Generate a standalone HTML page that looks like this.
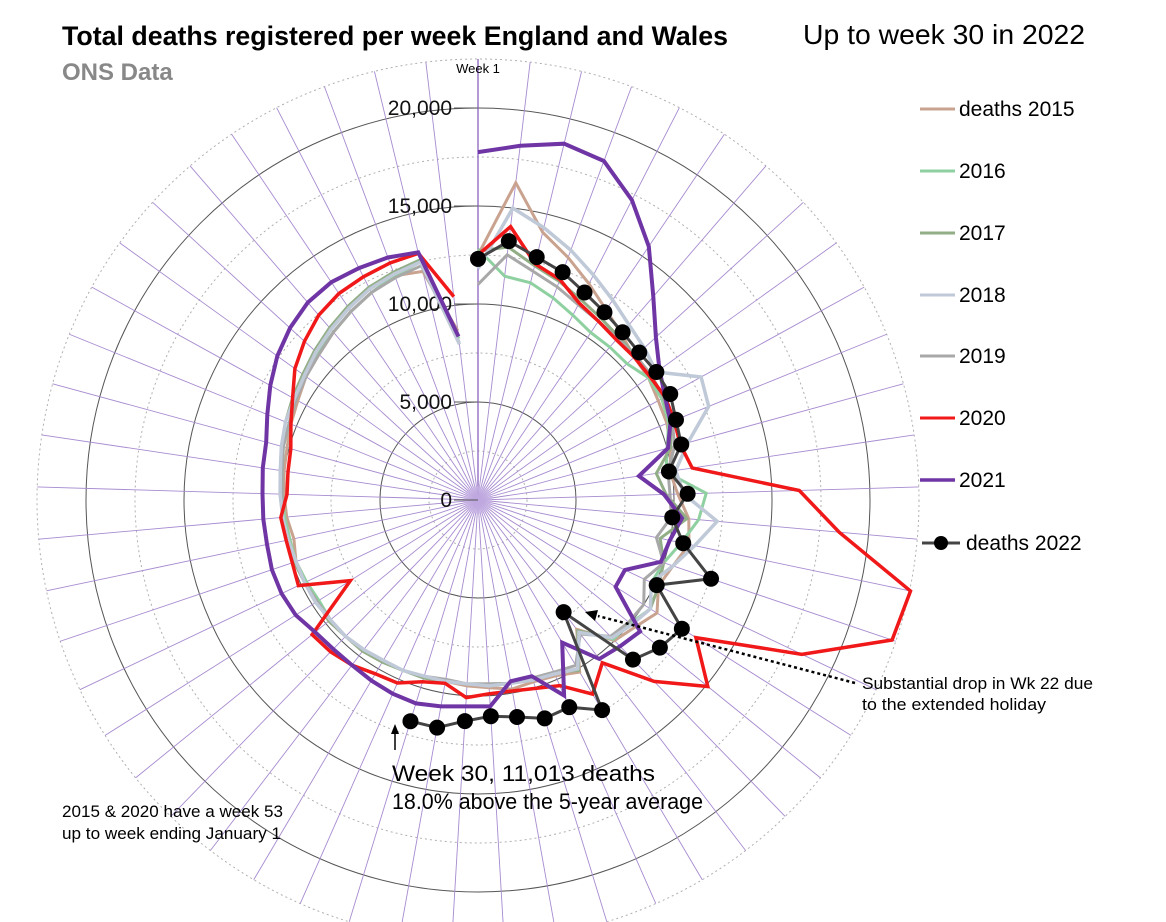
<!DOCTYPE html>
<html><head><meta charset="utf-8"><style>
html,body{margin:0;padding:0;background:#fff;}
body{width:1166px;height:922px;overflow:hidden;position:relative;font-family:"Liberation Sans",sans-serif;}
svg{position:absolute;left:0;top:0;}
</style></head><body>
<svg id="chart" width="1166" height="922" viewBox="0 0 1166 922"></svg>
<script>
const weeks = Array.from({length:53},(_,i)=>i+1);
const ringValues = [2500,5000,7500,10000,12500,15000,17500,20000,22500];
const tickValues = [0,5000,10000,15000,20000];
const tickLabels = ["0","5,000","10,000","15,000","20,000"];
const d2015=[12500,16300,14050,13200,12400,11700,11200,10800,10700,10500,10400,10200,9900,10200,10800,11000,10500,10200,10800,10300,10000,8300,10200,9800,9700,9800,9600,9500,9400,9400,9500,9600,9700,9700,9800,9700,9700,9800,9600,9800,9900,10000,10100,10300,10500,10800,11000,11300,11600,11900,12200,12000,8700];
const d2016=[12800,11500,11400,11000,10600,10300,10300,10300,10700,10700,10500,10000,9700,11650,11300,10600,10000,9800,10400,10000,9900,8400,10000,9700,9600,9500,9500,9400,9400,9400,9500,9600,9600,9700,9700,9600,9700,9800,9800,9900,10000,10100,10300,10400,10600,10900,11100,11300,11600,11900,12200,12500,8300];
const d2017=[12700,13000,12300,11900,11500,11200,11000,10900,10900,10800,10600,10200,9200,9600,10700,9500,10000,10200,10400,10100,9800,8400,10100,9600,9500,9500,9400,9400,9400,9500,9500,9600,9700,9700,9800,9700,9800,9900,9900,10000,10100,10200,10400,10600,10800,11000,11300,11600,11900,12200,12400,12600,8400];
const d2018=[11800,15000,14300,13600,12900,12300,11800,11500,11200,13000,12700,11100,10200,10500,12250,11300,10500,9800,10400,10100,9800,8500,10000,9700,9600,9500,9500,9400,9400,9400,9500,9500,9600,9700,9700,9800,9800,9800,9900,10000,10100,10200,10400,10600,10700,10900,11200,11500,11800,12100,12300,12500,8000];
const d2019=[11000,12600,12000,11600,11200,11000,10900,10900,10900,10800,10700,10400,9800,9800,9900,9300,10000,9400,10000,9900,9700,8600,9800,9600,9500,9500,9400,9400,9300,9400,9500,9500,9600,9700,9700,9700,9800,9800,9900,10000,10000,10100,10300,10400,10600,10800,11000,11300,11600,11900,12100,12300,8100];
const d2020=[12500,14050,12400,12000,11300,11000,10800,10800,10800,10900,10800,10700,11050,16400,18500,22550,22300,18300,13150,15100,12900,10450,11500,10350,10050,9900,9900,10100,9500,9700,10200,10300,10600,10800,10900,7700,10150,10000,10000,10100,9750,9800,9900,10300,10800,11500,12000,12450,12700,12800,12900,12950,10450];
const d2021=[17750,18200,18700,18450,17200,15600,13700,12300,11400,10900,10600,10050,8300,9500,10450,10000,9850,8300,8300,10650,10400,10200,8450,10900,9400,9400,10550,10550,10700,10850,10800,10700,10600,10600,10700,11000,11100,11100,11000,11000,11000,11100,11200,11600,12100,12600,13000,13300,13400,13300,13200,13000,8400];
const d2022=[12300,13300,12750,12400,11900,11550,11300,11150,11200,11200,10900,10750,9850,10700,9950,10700,12550,10100,12300,11950,11350,7200,12450,11550,11650,11250,11050,11300,11800,11800];

const NS="http://www.w3.org/2000/svg";
const svg=document.getElementById('chart');
const cx=478, cy=500, k=0.0196;
function rad(v){return v*k;}
function ang(w){return (w-1)*2*Math.PI/53;}
function px(w,v){return cx+rad(v)*Math.sin(ang(w));}
function py(w,v){return cy-rad(v)*Math.cos(ang(w));}
function mk(tag,attrs){const e=document.createElementNS(NS,tag);for(const a in attrs)e.setAttribute(a,attrs[a]);svg.appendChild(e);return e;}

ringValues.forEach(v=>{
  const solid = v%5000===0;
  const c=mk('circle',{cx:cx,cy:cy,r:rad(v),fill:'none',stroke:solid?'#555':'#b0b0b0','stroke-width':1,'stroke-dasharray':solid?'none':'2,3'});
  
  
});
weeks.forEach(w=>{
  const l=mk('line',{x1:cx,y1:cy,x2:px(w,22500),y2:py(w,22500),stroke:w===1?'#8a63c0':'#a78bd0','stroke-width':w===1?1.3:0.9});
  
  
});
const hub=mk('circle',{cx:cx,cy:cy,r:14,fill:'#c9b5e6',opacity:0.7});



tickValues.forEach((v,i)=>{
  const tk=mk('line',{x1:cx-24,y1:cy-rad(v),x2:cx,y2:cy-rad(v),stroke:'#555','stroke-width':1});
  
  
  const t=mk('text',{x:cx-26,y:cy-rad(v)+7,'text-anchor':'end','font-size':21,fill:'#111'});
  t.textContent=tickLabels[i];
  
  
});

function series(data,color,width,name){
  const pts=data.map((v,i)=>px(i+1,v).toFixed(1)+','+py(i+1,v).toFixed(1)).join(' ');
  const p=mk('polyline',{points:pts,fill:'none',stroke:color,'stroke-width':width,'stroke-linejoin':'miter'});
  
  
}
series(d2015,'#c9a38f',3,'series-2015');
series(d2016,'#8fd0a0',3,'series-2016');
series(d2017,'#92ae86',3,'series-2017');
series(d2019,'#a8a8a8',3,'series-2019');
series(d2018,'#bfc9d8',3.5,'series-2018');
series(d2020,'#f01818',3.5,'series-2020');
series(d2021,'#6f35a5',4,'series-2021');
series(d2022,'#444',3,'series-2022');
d2022.forEach((v,i)=>{
  const c=mk('circle',{cx:px(i+1,v),cy:py(i+1,v),r:8,fill:'#000'});
  
  
});
</script>
<svg width="1166" height="922">
  <text x="62" y="45" font-size="26.5" font-weight="bold" fill="#000" textLength="666" lengthAdjust="spacingAndGlyphs">Total deaths registered per week England and Wales</text>
  <text x="62" y="80" font-size="24" font-weight="bold" fill="#888">ONS Data</text>
  <text x="803" y="44" font-size="28" fill="#000" textLength="282" lengthAdjust="spacingAndGlyphs">Up to week 30 in 2022</text>
  <text x="478" y="73" font-size="13" text-anchor="middle" fill="#000">Week 1</text>

  <g font-size="21" fill="#000">
    <line x1="920" y1="109" x2="955" y2="109" stroke="#c9a38f" stroke-width="3"/>
    <text x="959" y="116">deaths 2015</text>
    <line x1="920" y1="171" x2="955" y2="171" stroke="#8fd0a0" stroke-width="3"/>
    <text x="959" y="178">2016</text>
    <line x1="920" y1="233" x2="955" y2="233" stroke="#92ae86" stroke-width="3"/>
    <text x="959" y="240">2017</text>
    <line x1="920" y1="295" x2="955" y2="295" stroke="#bfc9d8" stroke-width="3"/>
    <text x="959" y="302">2018</text>
    <line x1="920" y1="356" x2="955" y2="356" stroke="#a8a8a8" stroke-width="3"/>
    <text x="959" y="363">2019</text>
    <line x1="920" y1="418" x2="955" y2="418" stroke="#f01818" stroke-width="3"/>
    <text x="959" y="425">2020</text>
    <line x1="920" y1="480" x2="955" y2="480" stroke="#6f35a5" stroke-width="3.5"/>
    <text x="959" y="487">2021</text>
    <line x1="922" y1="543" x2="960" y2="543" stroke="#444" stroke-width="3"/>
    <circle cx="941" cy="543" r="7" fill="#000"/>
    <text x="966" y="550">deaths 2022</text>
  </g>

  <line x1="855" y1="683" x2="598" y2="616" stroke="#000" stroke-width="2.5" stroke-dasharray="3,3"/>
  <polygon points="585,612 598,610 595,621" fill="#000"/>
  <text x="862" y="689" font-size="16.5" fill="#000" textLength="231" lengthAdjust="spacingAndGlyphs">Substantial drop in Wk 22 due</text>
  <text x="862" y="710" font-size="16.5" fill="#000" textLength="184" lengthAdjust="spacingAndGlyphs">to the extended holiday</text>

  <line x1="395" y1="750" x2="395" y2="732" stroke="#000" stroke-width="1.5"/>
  <polygon points="395,724 391,734 399,734" fill="#000"/>
  <text x="392" y="781" font-size="22" fill="#000" textLength="263" lengthAdjust="spacingAndGlyphs">Week 30, 11,013 deaths</text>
  <text x="392" y="809" font-size="22" fill="#000" textLength="311" lengthAdjust="spacingAndGlyphs">18.0% above the 5-year average</text>

  <text x="62" y="817" font-size="16.5" fill="#000" textLength="221" lengthAdjust="spacingAndGlyphs">2015 &amp; 2020 have a week 53</text>
  <text x="62" y="839" font-size="16.5" fill="#000" textLength="219" lengthAdjust="spacingAndGlyphs">up to week ending January 1</text>
</svg>
</body></html>
